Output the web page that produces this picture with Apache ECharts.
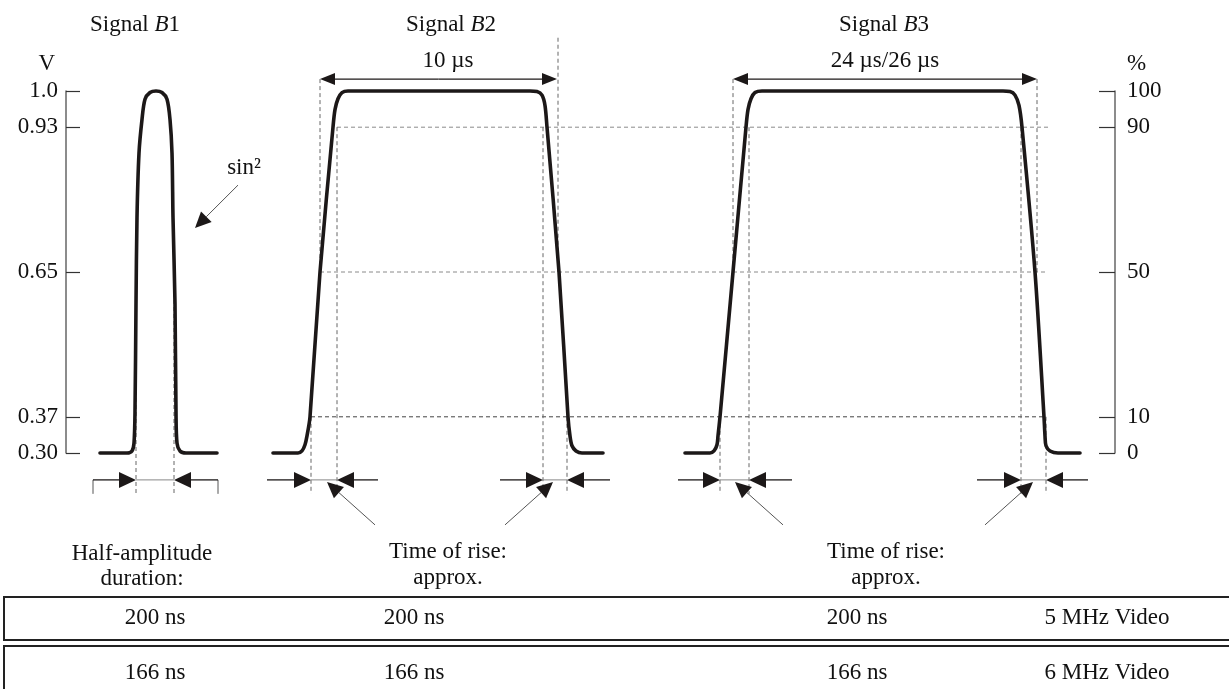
<!DOCTYPE html>
<html>
<head>
<meta charset="utf-8">
<script src="https://cdn.jsdelivr.net/npm/echarts@6/dist/echarts.min.js"></script>
<style>
  html, body { margin: 0; padding: 0; background: #fff; }
  #chart { width: 1229px; height: 689px; }
</style>
</head>
<body>
<div id="chart"></div>
<script>
// Test-signal pulses B1 (sin² pulse), B2 and B3 (bars), on a schematic time axis.
// Amplitude in volts on the left, in percent of amplitude on the right.

const voltTicks = [0.30, 0.37, 0.65, 0.93, 1.0];
const voltLabels = ['0.30', '0.37', '0.65', '0.93', '1.0'];
const pctTicks = [0, 10, 50, 90, 100];

// Pulse outlines: schematic time, amplitude (V)
const b1T = [100, 127, 132, 134, 135, 136, 137, 139, 142, 145, 150, 156, 162, 167, 170, 172, 173, 175, 176, 177, 180, 186, 217];
const b1V = [0.30, 0.30, 0.304, 0.319, 0.378, 0.589, 0.756, 0.880, 0.945, 0.984, 0.997, 1.0, 0.997, 0.984, 0.945, 0.880, 0.756, 0.589, 0.378, 0.319, 0.304, 0.30, 0.30];

const b2T = [273, 298, 302, 305, 307, 310, 320, 333, 335, 338, 342, 348, 356, 530, 537, 542, 545, 547, 559, 568, 570, 572, 576, 582, 603];
const b2V = [0.30, 0.30, 0.304, 0.316, 0.333, 0.37, 0.65, 0.93, 0.964, 0.985, 0.997, 1.0, 1.0, 1.0, 0.999, 0.992, 0.972, 0.93, 0.65, 0.37, 0.333, 0.314, 0.304, 0.30, 0.30];

const b3T = [685, 710, 714, 717, 718, 720, 733, 746, 748, 751, 755, 762, 770, 1003, 1010, 1015, 1019, 1022, 1035, 1044, 1045, 1046, 1050, 1058, 1080];
const b3V = [0.30, 0.30, 0.304, 0.316, 0.333, 0.37, 0.65, 0.93, 0.964, 0.985, 0.997, 1.0, 1.0, 1.0, 0.999, 0.992, 0.972, 0.93, 0.65, 0.37, 0.333, 0.314, 0.304, 0.30, 0.30];

// Reference levels 90 %, 50 %, 10 % (dashed)
const levelV = [0.93, 0.65, 0.37];
const levelFrom = [337, 320, 311];
const levelTo = [1050, 1047, 1044];
const levelColor = ['#8a8a8a', '#8a8a8a', '#444'];

// Vertical guides: time, upper amplitude, lower amplitude
const guideT = [136, 174, 320, 558, 311, 337, 543, 567, 733, 1037, 720, 749, 1021, 1046];
const guideTop = [0.65, 0.65, 1.023, 1.103, 0.37, 0.93, 0.93, 0.37, 1.023, 1.023, 0.37, 0.93, 0.93, 0.37];
const guideBottom = [0.221, 0.221, 0.65, 0.65, 0.221, 0.221, 0.221, 0.221, 0.65, 0.65, 0.221, 0.221, 0.221, 0.221];

// Half-amplitude spans above B2 and B3
const spanFrom = [320, 733];
const spanTo = [557, 1037];
const spanLevel = 1.023;
const spanLabels = ['10 µs', '24 µs/26 µs'];

// Measurement marks below the pulses: outer left, edge, edge, outer right
const measureB1 = [93, 136, 174, 218];
const measureRise = [
  [267, 311, 337, 378],
  [500, 543, 567, 610],
  [678, 720, 749, 792],
  [977, 1021, 1046, 1088]
];
const measureLevel = 0.248;
const bracketFoot = 0.221;

// Leader arrows: from (t, V) to (t, V)
const leaderFrom = [[375, 0.161], [505, 0.161], [783, 0.161], [985, 0.161], [238, 0.818]];
const leaderTo = [[327, 0.244], [553, 0.244], [735, 0.244], [1033, 0.244], [195, 0.735]];

// Table of durations per video bandwidth
const videoSystems = ['5 MHz Video', '6 MHz Video'];
const b1HalfAmplitude = ['200 ns', '166 ns'];
const b2RiseTime = ['200 ns', '166 ns'];
const b3RiseTime = ['200 ns', '166 ns'];

const SERIF = '"Liberation Serif", "Times New Roman", serif';
const INK = '#1c1818';
const FS = 23;

function pairs(xs, ys) { return xs.map((x, i) => [x, ys[i]]); }

function segmentSeries(name, data, style) {
  return {
    type: 'custom', name, data, silent: true, clip: false, z: 2,
    encode: { x: [0, 2], y: [1, 3] },
    renderItem: (params, api) => {
      const a = api.coord([api.value(0), api.value(1)]);
      const b = api.coord([api.value(2), api.value(3)]);
      const st = typeof style === 'function' ? style(params.dataIndex) : style;
      return { type: 'line', shape: { x1: a[0], y1: a[1], x2: b[0], y2: b[1] }, style: Object.assign({ fill: null }, st) };
    }
  };
}

function arrowSeries(name, data, lineStyle, headLen, headHalf) {
  return {
    type: 'custom', name, data, silent: true, clip: false, z: 4,
    encode: { x: [0, 2], y: [1, 3] },
    renderItem: (params, api) => {
      const a = api.coord([api.value(0), api.value(1)]);
      const b = api.coord([api.value(2), api.value(3)]);
      const dx = b[0] - a[0], dy = b[1] - a[1];
      const len = Math.hypot(dx, dy) || 1;
      const ux = dx / len, uy = dy / len;
      const bx = b[0] - ux * headLen, by = b[1] - uy * headLen;
      return {
        type: 'group',
        children: [
          { type: 'line', shape: { x1: a[0], y1: a[1], x2: bx, y2: by }, style: Object.assign({ fill: null }, lineStyle) },
          { type: 'polygon', shape: { points: [[b[0], b[1]], [bx - uy * headHalf, by + ux * headHalf], [bx + uy * headHalf, by - ux * headHalf]] }, style: { fill: INK } }
        ]
      };
    }
  };
}

// Derived segment lists
const levelSegs = levelV.map((v, i) => [levelFrom[i], v, levelTo[i], v]);
const guideSegs = guideT.map((t, i) => [t, guideTop[i], t, guideBottom[i]]);
const spanArrows = [];
spanFrom.forEach((f, i) => {
  const mid = (f + spanTo[i]) / 2;
  spanArrows.push([mid, spanLevel, f, spanLevel], [mid, spanLevel, spanTo[i], spanLevel]);
});
const measureArrows = [];
const gapSegs = [];
[measureB1].concat(measureRise).forEach(m => {
  measureArrows.push([m[0], measureLevel, m[1], measureLevel], [m[3], measureLevel, m[2], measureLevel]);
  gapSegs.push([m[1], measureLevel, m[2], measureLevel]);
});
const bracketSegs = [
  [measureB1[0], measureLevel, measureB1[0], bracketFoot],
  [measureB1[3], measureLevel, measureB1[3], bracketFoot]
];
const leaderArrows = leaderFrom.map((f, i) => [f[0], f[1], leaderTo[i][0], leaderTo[i][1]]);

function pulseSeries(name, t, v) {
  return {
    type: 'line', name, data: pairs(t, v), showSymbol: false, smooth: 0.3,
    clip: false, silent: true, z: 5,
    lineStyle: { color: INK, width: 3.6, cap: 'round', join: 'round' }
  };
}

function txt(x, y, text, extra) {
  return {
    type: 'text', x, y, silent: true,
    style: Object.assign({
      text, fill: '#111', font: FS + 'px ' + SERIF,
      align: 'center', verticalAlign: 'middle',
      rich: { i: { fontStyle: 'italic', fontSize: FS, fontFamily: SERIF, fill: '#111' } }
    }, extra || {})
  };
}

// Titles, captions and table (layout in pixels)
const tableCols = [155, 414, 857];
const tableRowsY = [618, 673];
const graphic = [
  txt(135, 25, 'Signal {i|B}1'),
  txt(451, 25, 'Signal {i|B}2'),
  txt(884, 25, 'Signal {i|B}3'),
  txt(448, 61, spanLabels[0]),
  txt(885, 61, spanLabels[1]),
  txt(244, 168, 'sin²'),
  txt(142, 554, 'Half-amplitude'),
  txt(142, 579, 'duration:'),
  txt(448, 552, 'Time of rise:'),
  txt(448, 578, 'approx.'),
  txt(886, 552, 'Time of rise:'),
  txt(886, 578, 'approx.'),
  { type: 'rect', shape: { x: 4, y: 597, width: 1240, height: 43 }, style: { fill: 'none', stroke: '#222', lineWidth: 2 } },
  { type: 'rect', shape: { x: 4, y: 646, width: 1240, height: 60 }, style: { fill: 'none', stroke: '#222', lineWidth: 2 } }
];
videoSystems.forEach((sys, r) => {
  const y = tableRowsY[r];
  graphic.push(txt(tableCols[0], y, b1HalfAmplitude[r]));
  graphic.push(txt(tableCols[1], y, b2RiseTime[r]));
  graphic.push(txt(tableCols[2], y, b3RiseTime[r]));
  graphic.push(txt(1107, y, sys));
});

function voltLabel(v) {
  const i = voltTicks.findIndex(t => Math.abs(t - v) < 1e-6);
  return i >= 0 ? voltLabels[i] : '';
}

const chart = echarts.init(document.getElementById('chart'), null, { renderer: 'canvas' });
chart.setOption({
  animation: false,
  backgroundColor: '#fff',
  grid: { left: 66, right: 114, top: 91, bottom: 236 },
  xAxis: { type: 'value', min: 66, max: 1115, show: false },
  yAxis: [
    {
      type: 'value', position: 'left', min: 0.30, max: 1.0,
      name: 'V', nameLocation: 'end', nameGap: 16,
      nameTextStyle: { fontFamily: SERIF, fontSize: FS, color: '#111', align: 'right', padding: [0, 11, 0, 0] },
      axisLine: { show: true, lineStyle: { color: '#666', width: 1.5 } },
      axisTick: { show: true, inside: true, length: 14, customValues: voltTicks, lineStyle: { color: '#333', width: 1.2 } },
      axisLabel: { customValues: voltTicks, formatter: voltLabel, margin: 8, fontFamily: SERIF, fontSize: FS, color: '#111' },
      splitLine: { show: false }
    },
    {
      type: 'value', position: 'right', min: 0, max: 100,
      name: '%', nameLocation: 'end', nameGap: 16,
      nameTextStyle: { fontFamily: SERIF, fontSize: FS, color: '#111', align: 'left', padding: [0, 0, 0, 12] },
      axisLine: { show: true, lineStyle: { color: '#666', width: 1.5 } },
      axisTick: { show: true, inside: true, length: 16, customValues: pctTicks, lineStyle: { color: '#333', width: 1.2 } },
      axisLabel: { customValues: pctTicks, formatter: v => String(v), margin: 12, fontFamily: SERIF, fontSize: FS, color: '#111' },
      splitLine: { show: false }
    }
  ],
  graphic,
  series: [
    segmentSeries('levels', levelSegs, i => ({ stroke: levelColor[i], lineWidth: 1, lineDash: [4, 3] })),
    segmentSeries('guides', guideSegs, { stroke: '#666', lineWidth: 1, lineDash: [4, 3] }),
    segmentSeries('gaps', gapSegs, { stroke: '#888', lineWidth: 1 }),
    segmentSeries('bracket', bracketSegs, { stroke: '#555', lineWidth: 1 }),
    arrowSeries('spans', spanArrows, { stroke: INK, lineWidth: 1.3 }, 15, 6),
    arrowSeries('measures', measureArrows, { stroke: INK, lineWidth: 1.3 }, 17, 8),
    arrowSeries('leaders', leaderArrows, { stroke: '#555', lineWidth: 1 }, 16, 7.5),
    pulseSeries('B1', b1T, b1V),
    pulseSeries('B2', b2T, b2V),
    pulseSeries('B3', b3T, b3V)
  ]
});
</script>
</body>
</html>
